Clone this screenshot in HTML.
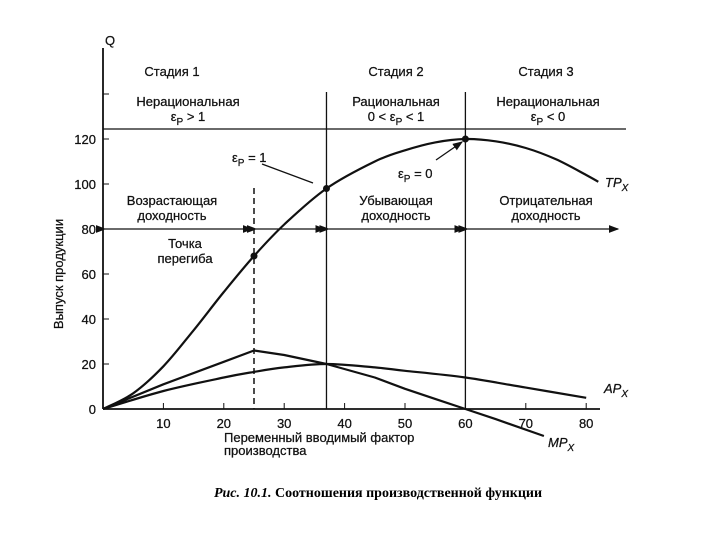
<!DOCTYPE html>
<html><head><meta charset="utf-8">
<style>
body{margin:0;background:#fff;}
svg{display:block;font-family:"Liberation Sans","DejaVu Sans",sans-serif;}
.t{font-size:13px;fill:#111;stroke:#111;stroke-width:0.25px;}
.c{text-anchor:middle;}
</style></head><body>
<svg id="chart" width="720" height="540" viewBox="0 0 720 540">
<defs><marker id="ar" markerWidth="8" markerHeight="6" refX="7" refY="3" orient="auto"><path d="M0,0 L8,3 L0,6 z" fill="#111"/></marker></defs>
<g id="axes"></g>
<g id="series"></g>
<g>
<text class="t" x="105" y="45">Q</text>
<text class="t c" x="172" y="76">Стадия 1</text>
<text class="t c" x="396" y="76">Стадия 2</text>
<text class="t c" x="546" y="76">Стадия 3</text>
<text class="t c" x="188" y="106">Нерациональная</text>
<text class="t c" x="188" y="121">ε<tspan dy="4" font-size="10">P</tspan><tspan dy="-4"> &gt; 1</tspan></text>
<text class="t c" x="396" y="106">Рациональная</text>
<text class="t c" x="396" y="121">0 &lt; ε<tspan dy="4" font-size="10">P</tspan><tspan dy="-4"> &lt; 1</tspan></text>
<text class="t c" x="548" y="106">Нерациональная</text>
<text class="t c" x="548" y="121">ε<tspan dy="4" font-size="10">P</tspan><tspan dy="-4"> &lt; 0</tspan></text>
<text class="t" x="232" y="162">ε<tspan dy="4" font-size="10">P</tspan><tspan dy="-4"> = 1</tspan></text>
<line x1="262" y1="164" x2="313" y2="183" stroke="#111" stroke-width="1.3"/>
<text class="t" x="398" y="178">ε<tspan dy="4" font-size="10">P</tspan><tspan dy="-4"> = 0</tspan></text>
<line x1="436" y1="160" x2="462" y2="142" stroke="#111" stroke-width="1.3" marker-end="url(#ar)"/>
<text class="t c" x="172" y="205">Возрастающая</text>
<text class="t c" x="172" y="220">доходность</text>
<text class="t c" x="396" y="205">Убывающая</text>
<text class="t c" x="396" y="220">доходность</text>
<text class="t c" x="546" y="205">Отрицательная</text>
<text class="t c" x="546" y="220">доходность</text>
<text class="t c" x="185" y="248">Точка</text>
<text class="t c" x="185" y="263">перегиба</text>
<text class="t" x="605" y="187" font-style="italic">TP<tspan dy="4" font-size="10">X</tspan></text>
<text class="t" x="604" y="393" font-style="italic">AP<tspan dy="4" font-size="10">X</tspan></text>
<text class="t" x="548" y="447" font-style="italic">MP<tspan dy="4" font-size="10">X</tspan></text>
<text class="t" x="224" y="442">Переменный вводимый фактор</text>
<text class="t" x="224" y="455">производства</text>
<text class="t c" transform="translate(63,274) rotate(-90)" font-size="12">Выпуск продукции</text>
<text x="378" y="497" text-anchor="middle" font-family="Liberation Serif,serif" font-weight="bold" font-size="14"><tspan font-style="italic">Рис. 10.1.</tspan> Соотношения производственной функции</text>
</g>
</svg>
<script>
const xTicks=[10,20,30,40,50,60,70,80];
const yTicks=[0,20,40,60,80,100,120];
const tpX=[0,5,10,15,20,25,30,37,45,50,55,60,65,70,75,80,82];
const tpY=[0,7,19,35,52,68,82,98,110,115,118.5,120,119,116,111,104,101];
const mpX=[0,10,20,25,30,37,45,50,55,60,65,73];
const mpY=[0,11,21,26,24,20,14,9,4.5,0,-4.5,-12];
const apX=[0,10,20,25,30,37,45,50,60,70,80];
const apY=[0,8,14,16.5,18.5,20,18.5,17,14,9.5,5];
const markX=[25,37,60];
const markY=[68,98,120];
const X=v=>103+v*6.04, Y=v=>409-v*2.25;
const NS="http://www.w3.org/2000/svg";
function mk(p,t,a){const e=document.createElementNS(NS,t);for(const k in a)e.setAttribute(k,a[k]);p.appendChild(e);return e;}
const ax=document.getElementById('axes'), se=document.getElementById('series');
let e=mk(ax,'line',{x1:103,y1:48,x2:103,y2:409,stroke:'#111','stroke-width':1.8});


e=mk(ax,'line',{x1:103,y1:409,x2:600,y2:409,stroke:'#111','stroke-width':1.8});


xTicks.forEach(v=>{
 let l=mk(ax,'line',{x1:X(v),y1:409,x2:X(v),y2:403,stroke:'#111'});
 
 
 let t=mk(ax,'text',{x:X(v),y:428,'class':'t c'});t.textContent=v;
 
 
});
yTicks.concat([140]).forEach(v=>{
 let l=mk(ax,'line',{x1:103,y1:Y(v),x2:109,y2:Y(v),stroke:'#111'});
 
 
 if(v===140)return;
 let t=mk(ax,'text',{x:96,y:Y(v)+5,'class':'t','text-anchor':'end'});t.textContent=v;
 
 
});
e=mk(ax,'line',{x1:103,y1:129,x2:626,y2:129,stroke:'#111','stroke-width':1.3});


e=mk(ax,'line',{x1:X(37),y1:92,x2:X(37),y2:409,stroke:'#111','stroke-width':1.3});


e=mk(ax,'line',{x1:X(60),y1:92,x2:X(60),y2:409,stroke:'#111','stroke-width':1.3});


e=mk(ax,'line',{x1:X(25),y1:188,x2:X(25),y2:409,stroke:'#111','stroke-width':1.5,'stroke-dasharray':'6,4'});


[[103,X(25)],[X(25),X(37)],[X(37),X(60)],[X(60),620]].forEach(s=>{
 let l=mk(ax,'line',{x1:s[0]+2,y1:229,x2:s[1]-2,y2:229,stroke:'#111','stroke-width':1.3,'marker-end':'url(#ar)','marker-start':'url(#ar)'});
 
 
});
function curve(xs,ys,name,smooth){
 const P=xs.map((v,i)=>[X(v),Y(ys[i])]);
 let d='M'+P[0][0].toFixed(1)+','+P[0][1].toFixed(1);
 for(let i=0;i<P.length-1;i++){
  const p0=P[Math.max(0,i-1)],p1=P[i],p2=P[i+1],p3=P[Math.min(P.length-1,i+2)];
  if(smooth){
   const c1=[p1[0]+(p2[0]-p0[0])/6,p1[1]+(p2[1]-p0[1])/6];
   const c2=[p2[0]-(p3[0]-p1[0])/6,p2[1]-(p3[1]-p1[1])/6];
   d+=' C'+c1.map(n=>n.toFixed(1))+' '+c2.map(n=>n.toFixed(1))+' '+p2.map(n=>n.toFixed(1));
  } else d+=' L'+p2.map(n=>n.toFixed(1));
 }
 let p=mk(se,'path',{d:d,fill:'none',stroke:'#111','stroke-width':2.2,'stroke-linejoin':'round'});
 
 
}
curve(tpX,tpY,'tp-curve',true);
curve(mpX,mpY,'mp-curve',false);
curve(apX,apY,'ap-curve',true);
markX.forEach((v,i)=>{
 let c=mk(se,'circle',{cx:X(v),cy:Y(markY[i]),r:3.5,fill:'#111'});
 
 
});
</script>
</body></html>
